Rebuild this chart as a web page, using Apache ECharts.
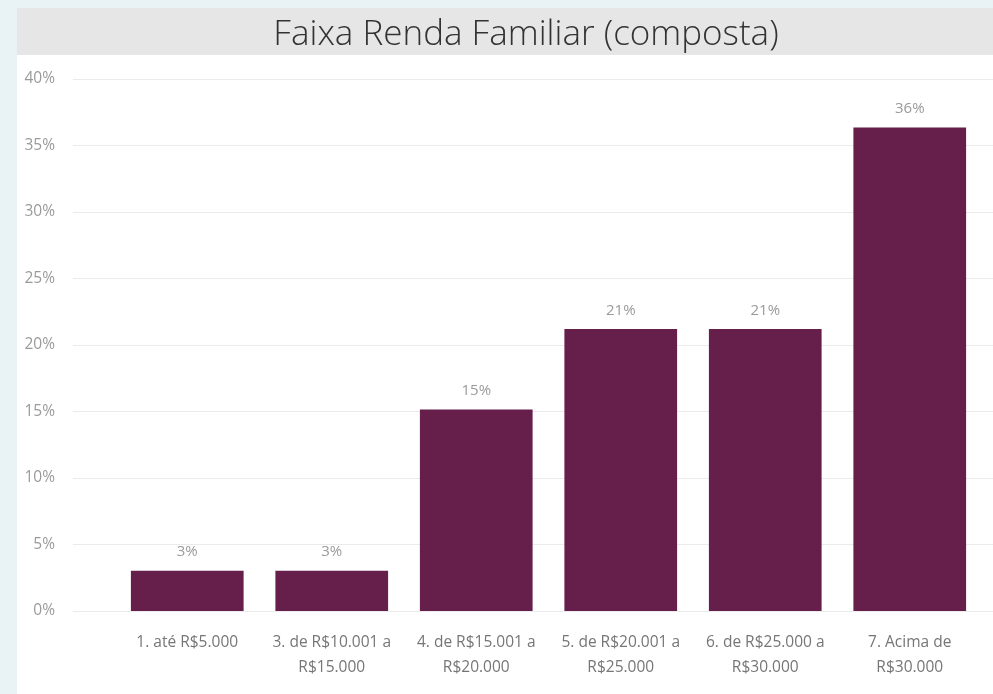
<!DOCTYPE html>
<html>
<head>
<meta charset="utf-8">
<script src="https://cdn.jsdelivr.net/npm/echarts@6/dist/echarts.min.js"></script>
<style>
html,body{margin:0;padding:0;background:#e9f2f4;}
#c{width:993px;height:694px;}
</style>
</head>
<body>
<div id="c"></div>
<script>
const titleText = 'Faixa Renda Familiar (composta)';
const categories = [
  '1. até R$5.000',
  '3. de R$10.001 a\nR$15.000',
  '4. de R$15.001 a\nR$20.000',
  '5. de R$20.001 a\nR$25.000',
  '6. de R$25.000 a\nR$30.000',
  '7. Acima de\nR$30.000'
];
const values = [3.03, 3.03, 15.15, 21.21, 21.21, 36.36];
const yTicks = { min: 0, max: 40, interval: 5 };

const chart = echarts.init(document.getElementById('c'), null, { renderer: 'canvas' });
const font = '"Open Sans", "Noto Sans", sans-serif';
chart.setOption({
  backgroundColor: 'transparent',
  animation: false,
  graphic: [
    { type: 'rect', shape: { x: 17, y: 8, width: 976, height: 686 }, style: { fill: '#ffffff' }, z: -10 },
    { type: 'rect', shape: { x: 17, y: 8, width: 976, height: 47 }, style: { fill: '#e6e6e6' }, z: -9 },
    { type: 'text', x: 526, y: 35, style: { text: titleText, fill: '#333333', font: '300 35px ' + font, align: 'center', verticalAlign: 'middle' }, z: 5 }
  ],
  grid: [
    { left: 73, right: 0, top: 79, bottom: 83 },
    { left: 115, right: 11, top: 79, bottom: 83 }
  ],
  xAxis: [
    { gridIndex: 0, type: 'value', show: false, min: 0, max: 1 },
    {
      gridIndex: 1, type: 'category', data: categories,
      axisLine: { show: false }, axisTick: { show: false },
      axisLabel: { interval: 0, color: '#767676', fontSize: 15.5, fontFamily: font, lineHeight: 25, margin: 19 }
    }
  ],
  yAxis: [
    {
      gridIndex: 0, type: 'value', min: yTicks.min, max: yTicks.max, interval: yTicks.interval,
      axisLine: { show: false }, axisTick: { show: false },
      axisLabel: { formatter: '{value}%', color: '#9a9a9a', fontSize: 15.5, fontFamily: font, margin: 18 },
      splitLine: { lineStyle: { color: '#ebebeb', width: 1 } }
    },
    { gridIndex: 1, type: 'value', min: yTicks.min, max: yTicks.max, interval: yTicks.interval, show: false, splitLine: { show: false } }
  ],
  series: [{
    type: 'bar', xAxisIndex: 1, yAxisIndex: 1, data: values,
    barCategoryGap: '22%',
    itemStyle: { color: '#651f4a' },
    label: {
      show: true, position: 'top', distance: 11, color: '#9a9a9a', fontSize: 15, fontFamily: font,
      formatter: p => Math.round(p.value) + '%'
    }
  }]
});
</script>
</body>
</html>
